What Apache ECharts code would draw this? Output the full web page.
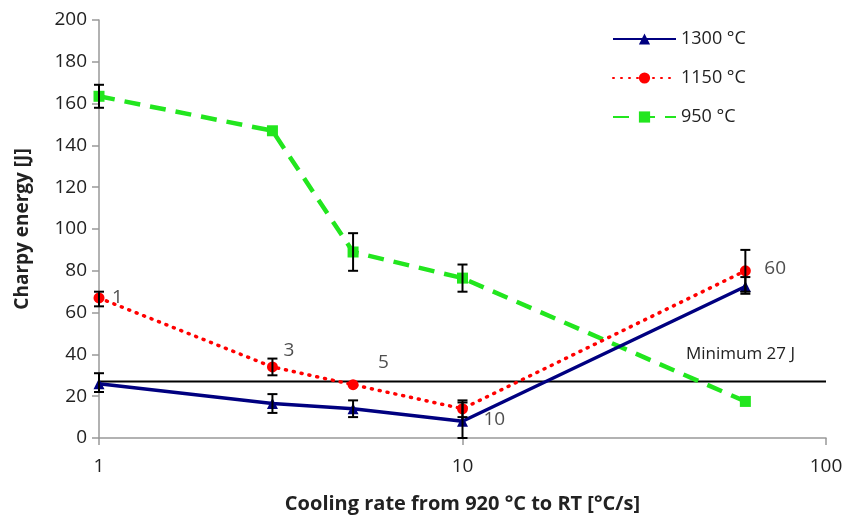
<!DOCTYPE html>
<html><head><meta charset="utf-8">
<script src="https://cdn.jsdelivr.net/npm/echarts@6/dist/echarts.min.js"></script>
<style>html,body{margin:0;padding:0;background:#fff}#c{width:843px;height:518px}</style>
</head><body><div id="c"></div>
<script>
const rates = [1, 3, 5, 10, 60];
const s1300 = [26, 16.5, 14, 8, 72.5];
const s1300Err = [[22, 31], [12, 21], [10, 18], [0, 17], [69, 77]];
const s1150 = [67, 34, 25.5, 14, 80];
const s1150Err = [[63, 70], [30, 38], null, [10, 18], [70, 90]];
const s950 = [163.5, 147, 89, 76.5, 17.5];
const s950Err = [[158, 169], null, [80, 98], [70, 83], null];
const minimumLine = 27;
const pointLabels = ['1', '3', '5', '10', '60'];
const pointLabelValues = [67, 34, 25.5, 8, 80];
const names = ['1300 °C', '1150 °C', '950 °C'];

const font = '"Open Sans", Lato, sans-serif';
function pairs(ys){ return rates.map((x,i)=>[x, ys[i]]); }
function errData(errs){ const out=[]; errs.forEach((e,i)=>{ if(e) out.push([rates[i], e[0], e[1]]); }); return out; }
function errSeries(errs){
  return {
    type:'custom', silent:true, z:5,
    data: errData(errs),
    renderItem(params, api){
      const x = api.value(0);
      const lo = api.coord([x, api.value(1)]);
      const hi = api.coord([x, api.value(2)]);
      const w = 5;
      const st = {stroke:'#000', lineWidth:2};
      return {type:'group', children:[
        {type:'line', shape:{x1:lo[0],y1:lo[1],x2:hi[0],y2:hi[1]}, style:st},
        {type:'line', shape:{x1:lo[0]-w,y1:lo[1],x2:lo[0]+w,y2:lo[1]}, style:st},
        {type:'line', shape:{x1:hi[0]-w,y1:hi[1],x2:hi[0]+w,y2:hi[1]}, style:st}
      ]};
    }
  };
}
const offs = [[8,0],[6,-16],[20,-22],[16,-2],[14,-2]];
const chart = echarts.init(document.getElementById('c'));
chart.setOption({
  animation:false,
  grid:{left:99, right:17, top:20, bottom:80, containLabel:false, outerBoundsMode:'none'},
  legend:{
    data:names, orient:'vertical', left:612, top:30, itemGap:21, padding:0,
    itemWidth:63, itemHeight:14,
    textStyle:{fontFamily:font, fontSize:18, color:'#222'}
  },
  xAxis:{
    type:'log', logBase:10, min:1, max:100,
    name:'Cooling rate from 920 °C to RT [°C/s]', nameLocation:'middle', nameGap:56,
    nameTextStyle:{fontFamily:font, fontSize:20, fontWeight:'bold', color:'#222'},
    axisLine:{lineStyle:{color:'#999', width:1.5}},
    axisTick:{show:true, length:7, lineStyle:{color:'#999', width:1.5}},
    minorTick:{show:false},
    splitLine:{show:false},
    axisLabel:{fontFamily:font, fontSize:19, color:'#222', margin:19}
  },
  yAxis:{
    type:'value', min:0, max:200, interval:20,
    name:'Charpy energy [J]', nameLocation:'middle', nameGap:67,
    nameTextStyle:{fontFamily:font, fontSize:19, fontWeight:'bold', color:'#222'},
    axisLine:{show:true, lineStyle:{color:'#999', width:1.5}},
    axisTick:{show:true, length:7, lineStyle:{color:'#999', width:1.5}},
    splitLine:{show:false},
    axisLabel:{fontFamily:font, fontSize:19, color:'#222', margin:12}
  },
  graphic:[{type:'text', left:686, top:346,
    style:{text:'Minimum 27 J', font:'17px '+font, fill:'#222'}}],
  series:[
    {type:'line', silent:true, data:[[1, minimumLine],[100, minimumLine]], symbol:'none', z:1,
     lineStyle:{color:'#000', width:2}},
    {type:'line', name:names[2], data:pairs(s950), symbol:'rect', symbolSize:11, z:2,
     itemStyle:{color:'#22e61e'}, lineStyle:{color:'#22e61e', width:4.5, type:[16,10]}},
    {type:'line', name:names[1], data:pairs(s1150), symbol:'circle', symbolSize:11, z:3,
     itemStyle:{color:'#ff0000'}, lineStyle:{color:'#ff0000', width:3.5, type:[1,7], cap:'round'}},
    {type:'line', name:names[0], data:pairs(s1300), symbol:'triangle', symbolSize:11, z:4,
     itemStyle:{color:'#000080'}, lineStyle:{color:'#000080', width:3.5}},
    errSeries(s950Err), errSeries(s1150Err), errSeries(s1300Err),
    {type:'scatter', silent:true, symbolSize:0, z:6,
     data: rates.map((x,i)=>({value:[x, pointLabelValues[i]], label:{offset:offs[i]}})),
     label:{show:true, position:'right', formatter:p=>pointLabels[p.dataIndex],
       fontFamily:font, fontSize:19, color:'#222'}}
  ]
});
</script></body></html>
